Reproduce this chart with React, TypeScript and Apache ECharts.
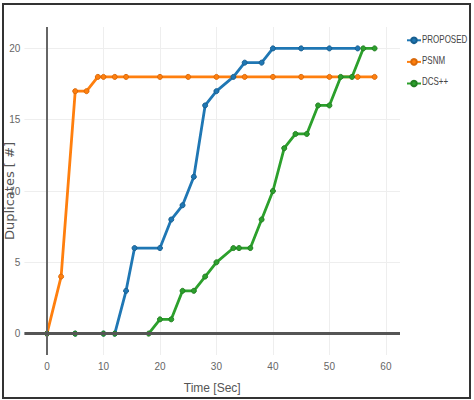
import React, { useEffect, useRef } from "react";
import * as echarts from "echarts";

// Time [Sec] vs. number of duplicates for each scheme
const proposedData: [number, number][] = [
  [0, 0], [5, 0], [10, 0], [12, 0], [14, 3], [15.5, 6], [20, 6], [22, 8], [24, 9],
  [26, 11], [28, 16], [30, 17], [33, 18], [35, 19], [38, 19], [40, 20], [45, 20],
  [50, 20], [55, 20],
];
const psnmData: [number, number][] = [
  [0, 0], [2.5, 4], [5, 17], [7, 17], [9, 18], [10, 18], [12, 18], [14, 18], [20, 18],
  [25, 18], [30, 18], [35, 18], [40, 18], [45, 18], [50, 18], [55, 18], [58, 18],
];
const dcsData: [number, number][] = [
  [0, 0], [5, 0], [10, 0], [12, 0], [18, 0], [20, 1], [22, 1], [24, 3], [26, 3],
  [28, 4], [30, 5], [33, 6], [34, 6], [36, 6], [38, 8], [40, 10], [42, 13], [44, 14],
  [46, 14], [48, 16], [50, 16], [52, 18], [54, 18], [56, 20], [58, 20],
];

const seriesNames = ["PROPOSED", "PSNM", "DCS++"];
const seriesColors = ["#1f77b4", "#ff7f0e", "#2ca02c"];
const seriesBorders = ["#185f90", "#d9690a", "#237f23"];

const xTicks = [0, 10, 20, 30, 40, 50, 60];
const yTicks = [0, 5, 10, 15, 20];

const FONT = "'Liberation Sans', sans-serif";

export default function App() {
  const ref = useRef<HTMLDivElement>(null);

  useEffect(() => {
    document.body.style.margin = "0";
    if (!ref.current) return;
    const chart = echarts.init(ref.current, null, { renderer: "svg" });

    const datasets = [proposedData, psnmData, dcsData];
    const lineSeries = seriesNames.map((name, i) => ({
      name,
      type: "line",
      data: datasets[i],
      symbol: "circle",
      symbolSize: 5,
      showSymbol: true,
      lineStyle: { color: seriesColors[i], width: 2.8 },
      itemStyle: { color: seriesColors[i], borderColor: seriesBorders[i], borderWidth: 1 },
      z: 3,
    }));

    // legend captions, condensed horizontally
    const legendTop = 40;
    const legendStep = 21;
    const legendLabels = seriesNames.map((name, i) => ({
      type: "text",
      x: 422,
      y: legendTop + i * legendStep,
      scaleX: 0.8,
      silent: true,
      style: {
        text: name,
        x: 0,
        y: 0,
        fontSize: 10,
        fontFamily: FONT,
        fill: "#444",
        verticalAlign: "middle",
        align: "left",
      },
    }));

    chart.setOption({
      animation: false,
      backgroundColor: "#ffffff",
      textStyle: { fontFamily: FONT },
      grid: {
        left: 24.4,
        right: 74,
        top: 27,
        bottom: 45,
        containLabel: false,
        outerBoundsMode: "none",
      },
      xAxis: {
        type: "value",
        min: -4,
        max: 62.5,
        name: "Time [Sec]",
        nameLocation: "middle",
        nameGap: 27,
        nameMoveOverlap: false,
        nameTextStyle: { fontSize: 12, color: "#555", fontFamily: FONT },
        axisLine: { show: false },
        axisTick: { show: false, customValues: xTicks },
        axisLabel: { customValues: xTicks, fontSize: 10, color: "#666", margin: 6, fontFamily: FONT },
        splitLine: { show: true, lineStyle: { color: "#eeeeee", width: 1 } },
      },
      yAxis: {
        type: "value",
        min: -1.5,
        max: 21.5,
        name: "Duplicates [ #]",
        nameLocation: "middle",
        nameGap: 8,
        nameMoveOverlap: false,
        nameTextStyle: { fontSize: 13, color: "#555", fontFamily: "'DejaVu Sans', sans-serif" },
        axisLine: { show: false },
        axisTick: { show: false, customValues: yTicks },
        axisLabel: { customValues: yTicks, fontSize: 10, color: "#666", margin: 4, fontFamily: FONT },
        splitLine: { show: true, lineStyle: { color: "#eeeeee", width: 1 } },
      },
      legend: {
        orient: "vertical",
        left: 406,
        top: legendTop - 3.5,
        padding: 0,
        itemWidth: 14,
        itemHeight: 7,
        itemGap: legendStep - 7,
        formatter: () => "",
        textStyle: { fontSize: 1, padding: 0 },
        data: seriesNames,
      },
      series: [
        ...lineSeries,
        {
          // zero lines of both axes
          type: "line",
          data: [],
          silent: true,
          z: 2,
          markLine: {
            silent: true,
            symbol: "none",
            label: { show: false },
            animation: false,
            data: [
              { xAxis: 0, lineStyle: { color: "#666", width: 2, type: "solid" } },
              { yAxis: 0, lineStyle: { color: "#555", width: 3, type: "solid" } },
            ],
          },
        },
      ],
      graphic: [
        {
          type: "rect",
          shape: { x: 3, y: 4, width: 467, height: 394 },
          style: { fill: "none", stroke: "#333", lineWidth: 2 },
          silent: true,
        },
        ...legendLabels,
      ],
    });

    return () => chart.dispose();
  }, []);

  return (
    <div
      ref={ref}
      style={{ position: "absolute", left: 0, top: 0, width: 474, height: 400 }}
    />
  );
}
